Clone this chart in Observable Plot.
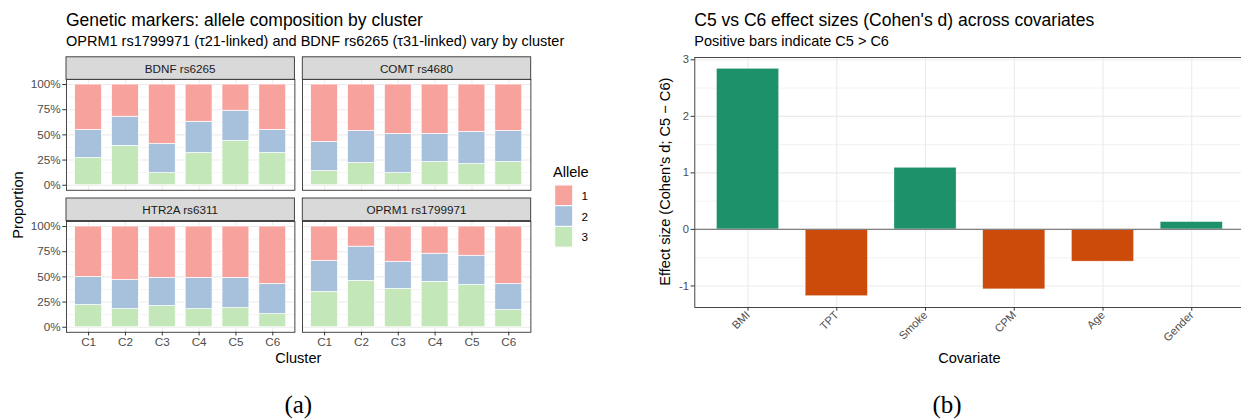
<!DOCTYPE html>
<html>
<head>
<meta charset="utf-8">
<script src="https://cdn.jsdelivr.net/npm/d3@7"></script>
<script src="https://cdn.jsdelivr.net/npm/@observablehq/plot@0.6"></script>
<style>
  body { margin: 0; background: #fff; }
  #root { position: relative; width: 1241px; height: 419px; overflow: hidden; background: #fff;
          font-family: "Liberation Sans", Arial, Helvetica, sans-serif; }
  #root svg { overflow: visible; }
</style>
</head>
<body>
<div id="root"></div>
<script>
// ---------------- DATA ----------------
const clusters = ["C1", "C2", "C3", "C4", "C5", "C6"];
const markers = ["BDNF rs6265", "COMT rs4680", "HTR2A rs6311", "OPRM1 rs1799971"];
const alleles = ["1", "2", "3"];

// allele proportions by cluster (C1..C6)
const bdnfAllele1 = [0.45, 0.32, 0.59, 0.37, 0.26, 0.45];
const bdnfAllele2 = [0.28, 0.29, 0.29, 0.31, 0.30, 0.23];
const bdnfAllele3 = [0.27, 0.39, 0.12, 0.32, 0.44, 0.32];

const comtAllele1 = [0.57, 0.46, 0.49, 0.49, 0.47, 0.46];
const comtAllele2 = [0.29, 0.32, 0.39, 0.28, 0.32, 0.31];
const comtAllele3 = [0.14, 0.22, 0.12, 0.23, 0.21, 0.23];

const htr2aAllele1 = [0.50, 0.53, 0.51, 0.51, 0.51, 0.57];
const htr2aAllele2 = [0.28, 0.29, 0.28, 0.31, 0.30, 0.30];
const htr2aAllele3 = [0.22, 0.18, 0.21, 0.18, 0.19, 0.13];

const oprm1Allele1 = [0.34, 0.20, 0.35, 0.27, 0.29, 0.57];
const oprm1Allele2 = [0.31, 0.34, 0.27, 0.28, 0.29, 0.26];
const oprm1Allele3 = [0.35, 0.46, 0.38, 0.45, 0.42, 0.17];

const covariates = ["BMI", "TPT", "Smoke", "CPM", "Age", "Gender"];
const cohensD = [2.84, -1.18, 1.09, -1.06, -0.57, 0.13];

const percentTicks = [0, 0.25, 0.5, 0.75, 1];
const effectTicks = [-1, 0, 1, 2, 3];

// ---------------- STYLE ----------------
const FONT = '"Liberation Sans", Arial, Helvetica, sans-serif';
const alleleColors = ["#F8A29E", "#A7C1DC", "#C4E7B9"];
const posColor = "#1D9169";
const negColor = "#CD4B0A";
const gridCol = "#EBEBEB";
const borderCol = "#333333";
const tickTextCol = "#4D4D4D";

const root = document.getElementById("root");
function place(el, left, top) {
  el.style.position = "absolute";
  el.style.left = left + "px";
  el.style.top = top + "px";
  root.appendChild(el);
}

// ---------------- PANEL (a) ----------------
const alleleByMarker = {
  "BDNF rs6265": [bdnfAllele1, bdnfAllele2, bdnfAllele3],
  "COMT rs4680": [comtAllele1, comtAllele2, comtAllele3],
  "HTR2A rs6311": [htr2aAllele1, htr2aAllele2, htr2aAllele3],
  "OPRM1 rs1799971": [oprm1Allele1, oprm1Allele2, oprm1Allele3]
};
const alleleTable = [];
markers.forEach(m => {
  clusters.forEach((c, j) => {
    // stack allele 3 at the bottom, allele 1 on top
    [2, 1, 0].forEach(k => alleleTable.push({ marker: m, cluster: c, allele: alleles[k], p: alleleByMarker[m][k][j] }));
  });
});

const PW = 228.4, PH = 110.8;
const facetLayout = [
  { marker: markers[0], x: 66, y: 79.3, left: true, bottom: false },
  { marker: markers[1], x: 302.3, y: 79.3, left: false, bottom: false },
  { marker: markers[2], x: 66, y: 220.5, left: true, bottom: true },
  { marker: markers[3], x: 302.3, y: 220.5, left: false, bottom: true }
];

facetLayout.forEach(f => {
  const mL = f.left ? 66 : 2, mR = 2, mT = 2, mB = f.bottom ? 22 : 2;
  const marks = [
    Plot.gridY({ ticks: [0.125, 0.375, 0.625, 0.875], stroke: gridCol, strokeOpacity: 1, strokeWidth: 0.6 }),
    Plot.gridY({ ticks: percentTicks, stroke: gridCol, strokeOpacity: 1, strokeWidth: 1.1 }),
    Plot.gridX({ stroke: gridCol, strokeOpacity: 1, strokeWidth: 1.1 }),
    Plot.barY(alleleTable.filter(d => d.marker === f.marker),
      { x: "cluster", y: "p", fill: "allele", stroke: "white", strokeWidth: 0.7 }),
    Plot.frame({ stroke: borderCol, strokeWidth: 0.9 })
  ];
  if (f.left) marks.push(Plot.axisY({ ticks: percentTicks, tickFormat: d3.format(".0%"), tickSize: 3.7, tickPadding: 2.2,
    stroke: borderCol, fill: tickTextCol, label: null }));
  if (f.bottom) marks.push(Plot.axisX({ tickSize: 3.7, tickPadding: 2.2, stroke: borderCol, fill: tickTextCol, label: null }));
  const chart = Plot.plot({
    width: mL + PW + mR, height: mT + PH + mB,
    marginLeft: mL, marginRight: mR, marginTop: mT, marginBottom: mB,
    style: { fontFamily: FONT, fontSize: "11.7px", background: "transparent", overflow: "visible" },
    x: { type: "band", domain: clusters, paddingInner: 0.27, paddingOuter: 0.235, round: false, axis: null, label: null },
    y: { domain: [-0.05, 1.05], axis: null, label: null },
    color: { domain: alleles, range: alleleColors },
    marks
  });
  place(chart, f.x - mL, f.y - mT);
});

// ---------------- PANEL (b) ----------------
const effectTable = covariates.map((c, i) => ({ covariate: c, d: cohensD[i], sign: cohensD[i] > 0 ? "pos" : "neg" }));
const [dMin, dMax] = d3.extent(cohensD);
const dPad = (dMax - dMin) * 0.05;
const bL = 54.3, bR = 4, bT = 2, bB = 60, bPW = 550.2, bPH = 250;
const chartB = Plot.plot({
  width: bL + bPW + bR, height: bT + bPH + bB,
  marginLeft: bL, marginRight: bR, marginTop: bT, marginBottom: bB,
  style: { fontFamily: FONT, fontSize: "11.2px", background: "transparent", overflow: "visible" },
  x: { type: "band", domain: covariates, paddingInner: 0.3, paddingOuter: 0.25, round: false, axis: null, label: null },
  y: { domain: [dMin - dPad, dMax + dPad], axis: null, label: null },
  color: { domain: ["pos", "neg"], range: [posColor, negColor] },
  marks: [
    Plot.gridY({ ticks: [-0.5, 0.5, 1.5, 2.5], stroke: gridCol, strokeOpacity: 1, strokeWidth: 0.6 }),
    Plot.gridY({ ticks: effectTicks, stroke: gridCol, strokeOpacity: 1, strokeWidth: 1.1 }),
    Plot.gridX({ stroke: gridCol, strokeOpacity: 1, strokeWidth: 1.1 }),
    Plot.barY(effectTable, { x: "covariate", y: "d", fill: "sign", stroke: "white", strokeWidth: 0.6, strokeOpacity: 0.6 }),
    Plot.ruleY([0], { stroke: "#808080", strokeWidth: 1.1 }),
    Plot.frame({ stroke: borderCol, strokeWidth: 0.9 }),
    Plot.axisY({ ticks: effectTicks, tickFormat: d => String(d), tickSize: 3.7, tickPadding: 2.2, stroke: borderCol, fill: tickTextCol, label: null }),
    Plot.axisX({ tickRotate: -45, tickSize: 3.7, tickPadding: 2, stroke: borderCol, fill: tickTextCol, label: null })
  ]
});
place(chartB, 694.3 - bL, 56.7 - bT);

// ---------------- TEXT OVERLAY ----------------
const svg = d3.create("svg").attr("width", 1241).attr("height", 419)
  .style("font-family", FONT).style("pointer-events", "none");
function txt(x, y, s, size, opts = {}) {
  const t = svg.append("text").attr("x", x).attr("y", y).attr("font-size", size)
    .attr("fill", opts.fill || "#000").attr("text-anchor", opts.anchor || "start").text(s);
  if (opts.rotate) t.attr("transform", `rotate(${opts.rotate},${x},${y})`);
  if (opts.baseline) t.attr("dominant-baseline", opts.baseline);
  if (opts.family) t.attr("font-family", opts.family);
  return t;
}
// titles
txt(66, 25.5, "Genetic markers: allele composition by cluster", "17.5px");
txt(66, 46, "OPRM1 rs1799971 (\u03C421-linked) and BDNF rs6265 (\u03C431-linked) vary by cluster", "14.5px");
txt(694.3, 25.5, "C5 vs C6 effect sizes (Cohen's d) across covariates", "17.5px");
txt(694.3, 46, "Positive bars indicate C5 > C6", "14.5px");

// facet strips
facetLayout.forEach(f => {
  svg.append("rect").attr("x", f.x).attr("y", f.y - 22.5).attr("width", PW).attr("height", 22.5)
    .attr("fill", "#D9D9D9").attr("stroke", borderCol).attr("stroke-width", 0.9);
  txt(f.x + PW / 2, f.y - 11.25, f.marker, "11.7px", { anchor: "middle", baseline: "central", fill: "#1A1A1A" });
});

// axis titles
txt(298.3, 363, "Cluster", "14.6px", { anchor: "middle" });
txt(23, 205, "Proportion", "14.6px", { anchor: "middle", rotate: -90 });
txt(969.4, 363, "Covariate", "14.6px", { anchor: "middle" });
txt(670, 181.7, "Effect size (Cohen's d; C5 \u2212 C6)", "14.6px", { anchor: "middle", rotate: -90 });

// legend
txt(553, 176.5, "Allele", "14.6px");
alleles.forEach((a, i) => {
  svg.append("rect").attr("x", 554.7).attr("y", 185 + i * 20.7).attr("width", 18).attr("height", 20.7)
    .attr("fill", alleleColors[i]).attr("stroke", "white").attr("stroke-width", 1);
  txt(581.5, 185 + i * 20.7 + 10.35, a, "11.7px", { baseline: "central", fill: "#000" });
});

// sub-figure captions
txt(298.3, 413, "(a)", "25px", { anchor: "middle", family: '"Liberation Serif", "DejaVu Serif", serif' });
txt(947, 413, "(b)", "25px", { anchor: "middle", family: '"Liberation Serif", "DejaVu Serif", serif' });

place(svg.node(), 0, 0);
</script>
</body>
</html>
